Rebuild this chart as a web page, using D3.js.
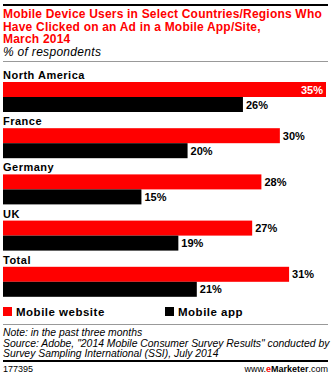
<!DOCTYPE html>
<html><head><meta charset="utf-8">
<script src="https://cdn.jsdelivr.net/npm/d3@7"></script>
<style>
html,body{margin:0;padding:0;background:#fff;}
svg{display:block;font-family:"Liberation Sans",Arial,sans-serif;}
</style></head>
<body><svg id="c" width="332" height="374"></svg>
<script>
const categories = ["North America","France","Germany","UK","Total"];
const mobileWebsite = [35,30,28,27,31];
const mobileApp = [26,20,15,19,21];
const seriesNames = ["Mobile website","Mobile app"];
const seriesColors = ["#ff0000","#000000"];
const titleLines = ["Mobile Device Users in Select Countries/Regions Who","Have Clicked on an Ad in a Mobile App/Site,","March 2014"];
const subtitle = "% of respondents";
const notes = ["Note: in the past three months","Source: Adobe, \"2014 Mobile Consumer Survey Results\" conducted by","Survey Sampling International (SSI), July 2014"];

const svg = d3.select("#c");

// top rule
svg.append("rect").attr("x",3).attr("y",4).attr("width",325).attr("height",2).attr("fill","#000");
titleLines.forEach((t,i)=>{
  svg.append("text").attr("x",3).attr("y",18+i*12.5).text(t)
    .attr("font-size",12).attr("letter-spacing",0.2).attr("font-weight","bold").attr("fill","#ff0000");
});
svg.append("text").attr("x",3).attr("y",56).text(subtitle)
  .attr("font-size",12).attr("letter-spacing",0.3).attr("font-style","italic").attr("fill","#000");
svg.append("rect").attr("x",3).attr("y",61).attr("width",325).attr("height",1).attr("fill","#999");

const x = d3.scaleLinear().domain([0,35]).range([3,326]);
const y = d3.scaleBand().domain(categories).range([66,297]).paddingInner(0).paddingOuter(0);
const bh = 15;

const g = svg.append("g");
categories.forEach((c,i)=>{
  const y0 = y(c);
  g.append("text").attr("x",3).attr("y",y0+13).text(c)
    .attr("font-size",11).attr("letter-spacing",0.5).attr("font-weight","bold").attr("fill","#000");
  const vals = [mobileWebsite[i], mobileApp[i]];
  vals.forEach((v,j)=>{
    const by = y0+16+j*bh;
    g.append("rect").attr("x",x(0)).attr("y",by).attr("width",x(v)-x(0)).attr("height",bh)
      .attr("fill",seriesColors[j]);
    const inside = x(v) > 300;
    g.append("text").attr("x", inside ? x(v)-3 : x(v)+3).attr("y",by+bh/2+4)
      .attr("text-anchor", inside ? "end":"start")
      .attr("font-size",11).attr("font-weight","bold")
      .attr("fill", inside ? "#fff":"#000").text(v+"%");
  });
});

// legend
const lx = [3,165];
seriesNames.forEach((n,i)=>{
  svg.append("rect").attr("x",lx[i]).attr("y",307).attr("width",9).attr("height",9).attr("fill",seriesColors[i]);
  svg.append("text").attr("x",lx[i]+13).attr("y",316).text(n)
    .attr("font-size",11.5).attr("letter-spacing",0.5).attr("font-weight","bold").attr("fill","#000");
});
svg.append("rect").attr("x",3).attr("y",324).attr("width",325).attr("height",1).attr("fill","#999");
notes.forEach((t,i)=>{
  svg.append("text").attr("x",3).attr("y",336+i*10.5).text(t)
    .attr("font-size",10.4).attr("font-style","italic").attr("fill","#000");
});
svg.append("rect").attr("x",3).attr("y",360).attr("width",325).attr("height",2).attr("fill","#000");
svg.append("text").attr("x",3).attr("y",372).text("177395").attr("font-size",9).attr("fill","#000");
const em = svg.append("text").attr("x",328).attr("y",372).attr("text-anchor","end").attr("font-size",9).attr("fill","#000");
em.append("tspan").text("www.");
em.append("tspan").text("e").attr("fill","#ff0000").attr("font-weight","bold");
em.append("tspan").text("Marketer").attr("font-weight","bold");
em.append("tspan").text(".com");
</script></body></html>
